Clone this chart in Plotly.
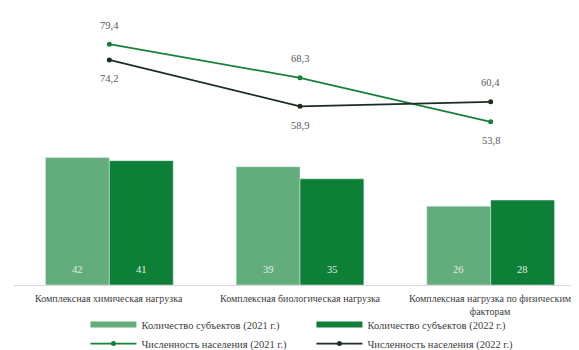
import plotly.graph_objects as go

categories = [
    "Комплексная химическая нагрузка",
    "Комплексная биологическая нагрузка",
    "Комплексная нагрузка по физическим<br>факторам",
]
subjects_2021 = [42, 39, 26]
subjects_2022 = [41, 35, 28]
population_2021 = [79.4, 68.3, 53.8]
population_2022 = [74.2, 58.9, 60.4]

names = [
    "Количество субъектов (2021 г.)",
    "Количество субъектов (2022 г.)",
    "Численность населения (2021 г.)",
    "Численность населения (2022 г.)",
]

# label placement (style): +1 above point, -1 below point
label_side_2021 = [1, 1, -1]
label_side_2022 = [-1, -1, 1]

C_LIGHT = "#63AD7C"
C_DARK = "#0E7F36"
C_LINE21 = "#17803A"
C_LINE22 = "#1B2E20"
FONT = "Liberation Serif"
FS = 10.5

fig = go.Figure()
fig.add_trace(go.Bar(x=categories, y=subjects_2021, marker_color=C_LIGHT,
                     name=names[0], showlegend=False, hoverinfo="skip"))
fig.add_trace(go.Bar(x=categories, y=subjects_2022, marker_color=C_DARK,
                     name=names[1], showlegend=False, hoverinfo="skip"))
# legend entries for bars (wide flat rectangles)
fig.add_trace(go.Scatter(x=[None], y=[None], mode="lines", name=names[0],
                         line=dict(color=C_LIGHT, width=6)))
fig.add_trace(go.Scatter(x=[None], y=[None], mode="lines", name=names[1],
                         line=dict(color=C_DARK, width=6)))
fig.add_trace(go.Scatter(x=categories, y=population_2021, mode="lines+markers",
                         name=names[2], line=dict(color=C_LINE21, width=1.75),
                         marker=dict(size=5, color=C_LINE21)))
fig.add_trace(go.Scatter(x=categories, y=population_2022, mode="lines+markers",
                         name=names[3], line=dict(color=C_LINE22, width=1.75),
                         marker=dict(size=5, color=C_LINE22)))

def fmt(v):
    return f"{v:.1f}".replace(".", ",")

annotations = []
for vals, sides in ((population_2021, label_side_2021), (population_2022, label_side_2022)):
    for c, v, s in zip(categories, vals, sides):
        annotations.append(dict(x=c, y=v, text=fmt(v), showarrow=False,
                                yshift=19 * s, font=dict(family=FONT, size=FS, color="#595959")))
for vals, shift in ((subjects_2021, -32), (subjects_2022, 32)):
    for c, v in zip(categories, vals):
        annotations.append(dict(x=c, y=0, text=str(v), showarrow=False,
                                xshift=shift, yshift=16,
                                font=dict(family=FONT, size=FS, color="#E0ECE3")))
# category labels under the axis
for c in categories:
    annotations.append(dict(x=c, y=0, text=c, showarrow=False, yanchor="top",
                            yshift=-6, align="center",
                            font=dict(family=FONT, size=10, color="#404040")))

fig.update_layout(
    width=579, height=350,
    margin=dict(l=6, r=1, t=4, b=73, autoexpand=False),
    paper_bgcolor="white", plot_bgcolor="white",
    barmode="group", bargap=0.33, bargroupgap=0,
    font=dict(family=FONT, size=FS, color="#404040"),
    xaxis=dict(type="category", showline=True, linecolor="#D9D9D9", linewidth=1,
               showgrid=False, ticks="", showticklabels=False, automargin=False),
    yaxis=dict(range=[0, 90], visible=False, showgrid=False, zeroline=False),
    showlegend=True,
    legend=dict(orientation="h", x=0.52, xanchor="center", y=-73 / 273, yanchor="bottom",
                traceorder="normal", entrywidth=165, entrywidthmode="pixels",
                itemwidth=46, bgcolor="rgba(0,0,0,0)",
                font=dict(family=FONT, size=FS, color="#404040"),
                tracegroupgap=0),
    annotations=annotations,
)

fig.write_html("out.html")
